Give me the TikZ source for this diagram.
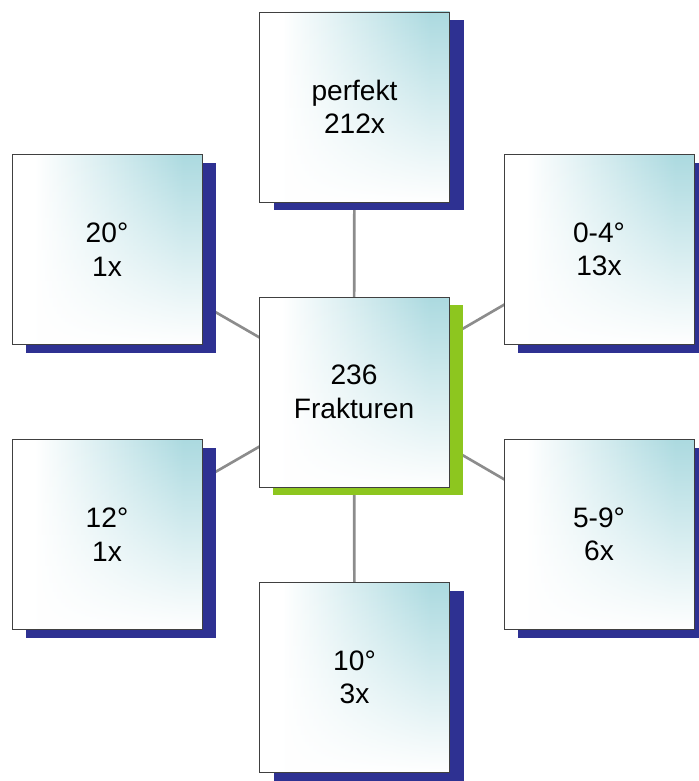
\documentclass[tikz,border=0pt]{standalone}
\usepackage{fontspec}
\setmainfont{Liberation Sans}
\usepackage{xcolor}
\usepackage{tikz}
\usetikzlibrary{shadows, backgrounds, fadings}

\definecolor{boxteal}{RGB}{172,218,224}
\definecolor{shadowblue}{RGB}{46,49,146}
\definecolor{shadowgreen}{RGB}{141,198,31}
\definecolor{linkgray}{RGB}{140,140,140}

% white on the left, teal towards the right
\pgfdeclarehorizontalshading{tealramp}{100bp}{color(0bp)=(white); color(31bp)=(white); color(70bp)=(boxteal); color(100bp)=(boxteal)}
% white veil, opaque at the bottom
\tikzfading[name=veilup, bottom color=transparent!0, middle color=transparent!88, top color=transparent!100]

\begin{document}
\begin{tikzpicture}[
font=\fontsize{16}{19}\selectfont,
countbox/.style={
rectangle,
draw=black!75,
line width=0.5pt,
align=center,
minimum size=3.8cm,
fill=white,
path picture={
\shade[shading=tealramp] (path picture bounding box.south west) rectangle (path picture bounding box.north east);
\fill[white, path fading=veilup] (path picture bounding box.south west) rectangle (path picture bounding box.north east);
},
general shadow={fill=shadowblue, shadow xshift=0.28cm, shadow yshift=-0.16cm}
},
totalbox/.style={
countbox,
general shadow={fill=shadowgreen, shadow xshift=0.28cm, shadow yshift=-0.16cm}
},
link/.style={
draw=linkgray,
line width=1.5pt
}
]

\useasboundingbox (0,0) rectangle (13.98,-15.62);

\node[totalbox] (total) at (7.08,-7.84)
{236\\Frakturen};

\node[countbox] (perfekt) at (7.09,-2.14)
{perfekt\\212x};

\node[countbox] (small) at (11.98,-4.99)
{0-4°\\13x};

\node[countbox] (medium) at (11.98,-10.69)
{5-9°\\6x};

\node[countbox] (ten) at (7.09,-13.55)
{10°\\3x};

\node[countbox] (twelve) at (2.14,-10.69)
{12°\\1x};

\node[countbox] (twenty) at (2.14,-4.99)
{20°\\1x};

% Connectors from the centre, kept behind the boxes
\begin{scope}[on background layer]
\foreach \n in {perfekt, small, medium, ten, twelve, twenty}
  \draw[link] (total.center) -- (\n.center);
\end{scope}

\end{tikzpicture}
\end{document}
